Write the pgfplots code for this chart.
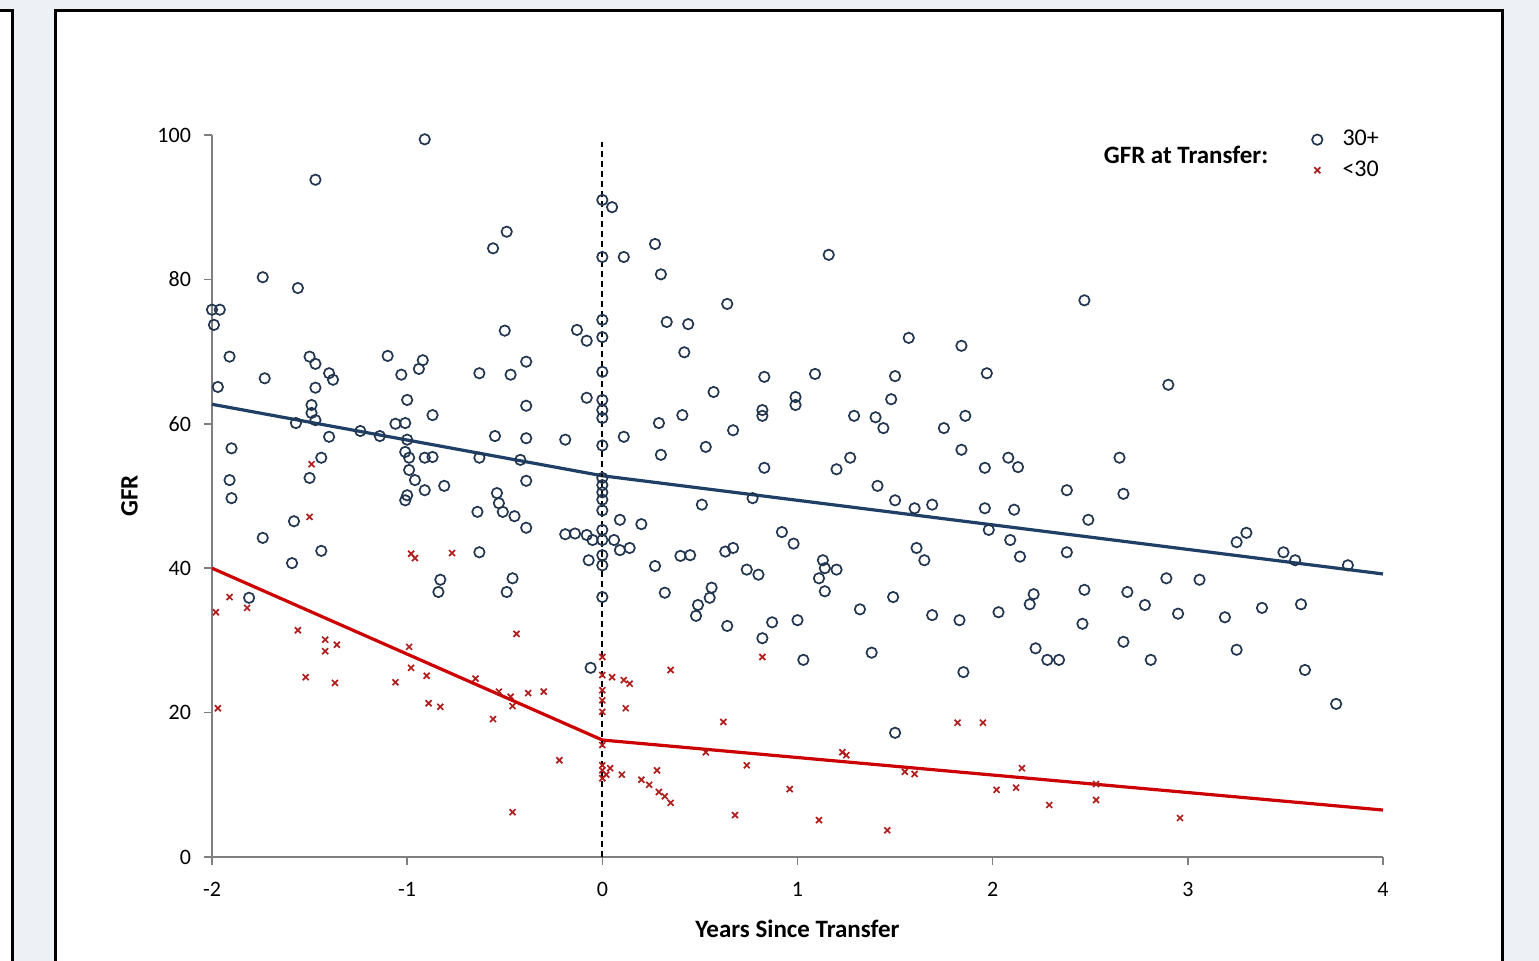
\documentclass[border=0pt]{standalone}
\usepackage{fontspec}
\setmainfont{Carlito}
\usepackage{pgfplots}
\pgfplotsset{compat=1.18}
\definecolor{bgpanel}{HTML}{EDF0F5}
\definecolor{cblue}{HTML}{22364F}
\definecolor{lblue}{HTML}{1F3F66}
\definecolor{cred}{HTML}{B01E1E}
\definecolor{lred}{HTML}{CC0000}
\definecolor{axgray}{HTML}{7F7F7F}

\pgfplotstableread{
x y
-0.91 99.4
-1.47 93.8
-1.74 80.3
-1.56 78.8
-2.00 75.8
-1.96 75.8
-1.99 73.7
-1.91 69.3
-1.97 65.1
-1.73 66.3
-1.50 69.3
-1.47 68.3
-1.40 67.0
-1.38 66.1
-1.47 65.0
-1.49 62.6
-1.49 61.5
-1.47 60.5
-1.57 60.1
-1.24 59.0
-1.40 58.2
-1.14 58.3
-1.90 56.6
-1.44 55.3
-1.91 52.2
-1.90 49.7
-1.50 52.5
-1.58 46.5
-1.74 44.2
-1.44 42.4
-1.59 40.7
-1.81 35.9
-1.10 69.4
-1.03 66.8
-0.92 68.8
-0.94 67.6
-1.00 63.3
-0.87 61.2
-1.06 60.0
-1.01 60.1
-1.00 57.8
-1.01 56.1
-0.99 55.3
-0.91 55.3
-0.87 55.4
-0.99 53.6
-0.96 52.2
-1.00 50.1
-1.01 49.4
-0.91 50.8
-0.81 51.4
-0.83 38.4
-0.84 36.7
-0.56 84.3
-0.49 86.6
-0.63 67.0
-0.50 72.9
-0.47 66.8
-0.39 68.6
-0.39 62.5
-0.55 58.3
-0.39 58.0
-0.63 55.3
-0.42 55.0
-0.54 50.4
-0.53 49.0
-0.51 47.8
-0.45 47.2
-0.39 52.1
-0.39 45.6
-0.64 47.8
-0.63 42.2
-0.49 36.7
-0.46 38.6
-0.19 57.8
-0.13 73.0
-0.08 71.5
-0.08 63.6
-0.19 44.7
-0.14 44.8
-0.08 44.6
-0.05 43.9
-0.07 41.1
-0.06 26.2
0.00 91.0
0.00 83.1
0.00 74.4
0.00 72.0
0.00 67.2
0.00 63.3
0.00 61.9
0.00 60.8
0.00 57.0
0.00 52.5
0.00 51.5
0.00 50.5
0.00 49.5
0.00 48.0
0.00 45.3
0.00 43.9
0.00 41.8
0.00 40.4
0.00 36.0
0.05 90.0
0.11 83.1
0.27 84.9
0.30 80.7
0.33 74.1
0.44 73.8
0.42 69.9
0.64 76.6
0.11 58.2
0.29 60.1
0.41 61.2
0.30 55.7
0.57 64.4
0.67 59.1
0.82 61.9
0.82 61.1
0.83 66.5
0.83 53.9
0.99 63.7
0.99 62.6
1.09 66.9
0.51 48.8
0.53 56.8
0.77 49.7
0.09 46.7
0.20 46.1
0.14 42.8
0.06 43.9
0.09 42.5
0.27 40.3
0.40 41.7
0.45 41.8
0.32 36.6
0.49 34.9
0.48 33.4
0.55 35.9
0.56 37.3
0.67 42.8
0.63 42.3
0.74 39.8
0.80 39.1
0.64 32.0
0.82 30.3
0.87 32.5
0.92 45.0
0.98 43.4
1.00 32.8
1.03 27.3
1.16 83.4
1.57 71.9
1.84 70.8
1.97 67.0
1.50 66.6
1.48 63.4
1.29 61.1
1.40 60.9
1.44 59.4
1.75 59.4
1.86 61.1
1.27 55.3
1.20 53.7
1.84 56.4
1.96 53.9
1.41 51.4
1.50 49.4
1.60 48.3
1.69 48.8
1.96 48.3
1.98 45.3
1.13 41.1
1.14 40.0
1.20 39.8
1.11 38.6
1.14 36.8
1.61 42.8
1.65 41.1
1.32 34.3
1.49 36.0
1.69 33.5
1.83 32.8
1.38 28.3
1.50 17.2
1.85 25.6
2.08 55.3
2.13 54.0
2.11 48.1
2.09 43.9
2.14 41.6
2.03 33.9
2.19 35.0
2.21 36.4
2.22 28.9
2.28 27.3
2.34 27.3
2.38 50.8
2.38 42.2
2.47 77.1
2.49 46.7
2.47 37.0
2.46 32.3
2.65 55.3
2.67 50.3
2.69 36.7
2.67 29.8
2.78 34.9
2.81 27.3
2.89 38.6
2.90 65.4
2.95 33.7
3.06 38.4
3.19 33.2
3.25 43.6
3.30 44.9
3.25 28.7
3.38 34.5
3.49 42.2
3.55 41.1
3.58 35.0
3.60 25.9
3.76 21.2
3.82 40.4
}\highgfr

\pgfplotstableread{
x y
-1.98 33.9
-1.91 36.0
-1.82 34.5
-1.97 20.6
-1.56 31.4
-1.52 24.9
-1.42 30.1
-1.42 28.5
-1.36 29.4
-1.37 24.1
-1.50 47.1
-1.49 54.4
-1.06 24.2
-0.99 29.1
-0.98 26.2
-0.98 42.0
-0.96 41.4
-0.90 25.1
-0.89 21.3
-0.83 20.8
-0.77 42.1
-0.65 24.7
-0.56 19.1
-0.53 22.9
-0.47 22.2
-0.46 20.9
-0.44 30.9
-0.38 22.7
-0.30 22.9
-0.46 6.2
-0.22 13.4
0.00 27.7
0.00 25.2
0.00 23.1
0.00 21.7
0.00 20.1
0.00 15.5
0.00 12.7
0.00 12.0
0.02 11.4
0.00 10.9
0.04 12.3
0.05 24.9
0.11 24.5
0.14 24.0
0.12 20.6
0.10 11.4
0.20 10.7
0.24 10.0
0.28 12.0
0.29 9.0
0.32 8.4
0.35 7.5
0.35 25.9
0.53 14.5
0.62 18.7
0.68 5.8
0.74 12.7
0.82 27.7
0.96 9.4
1.11 5.1
1.23 14.5
1.25 14.1
1.46 3.7
1.55 11.8
1.60 11.5
1.82 18.6
1.95 18.6
2.02 9.3
2.12 9.6
2.15 12.3
2.29 7.2
2.53 10.1
2.53 7.9
2.96 5.4
}\lowgfr

\begin{document}
\begin{tikzpicture}
\useasboundingbox (0,0) rectangle (769.5pt,480.5pt);
\fill[bgpanel] (0,0) rectangle (769.5pt,480.5pt);
\filldraw[fill=white,draw=black,line width=1.5pt] (-20pt,-10pt) rectangle (6pt,475pt);
\filldraw[fill=white,draw=black,line width=1.5pt] (27.5pt,-10pt) rectangle (751pt,475pt);
\begin{axis}[
  at={(106pt,52pt)}, anchor=south west,
  scale only axis, width=585.5pt, height=361pt,
  xmin=-2, xmax=4, ymin=0, ymax=100,
  xtick={-2,-1,...,4}, ytick={0,20,...,100},
  axis x line*=bottom, axis y line*=left,
  axis line style={axgray, line width=1pt, -},
  tick align=outside, major tick length=4pt,
  tick style={axgray, line width=0.8pt},
  /pgf/number format/assume math mode=true,
  ticklabel style={font=\fontsize{11}{12}\selectfont},
  xticklabel style={yshift=-5pt},
  yticklabel style={xshift=-3pt},
  xlabel={\textbf{Years Since Transfer}},
  ylabel={\textbf{GFR}},
  label style={font=\fontsize{12.5}{14}\selectfont},
  xlabel style={yshift=-5pt},
  ylabel style={yshift=3pt},
  clip=false,
  legend style={at={(0.934,1.018)}, anchor=north west, draw=none, fill=none,
    font=\fontsize{12}{14}\selectfont, row sep=2pt,
    /tikz/every even column/.append style={column sep=4pt}},
  legend cell align=left,
  legend image post style={xshift=-9.5pt},
]
\addplot[only marks, mark=o, mark size=2.6pt, cblue, line width=0.85pt] table {\highgfr};
\addlegendentry{\hspace{8pt}30+}
\addplot[only marks, mark=x, mark size=2.1pt, cred, line width=0.85pt] table {\lowgfr};
\addlegendentry{\hspace{8pt}<30}
\addplot[lblue, line width=1.6pt, forget plot] coordinates {(-2,62.7)(0,52.8)(4,39.2)};
\addplot[lred, line width=1.6pt, forget plot] coordinates {(-2,40.0)(0,16.2)(4,6.5)};
\addplot[black, line width=1.1pt, dash pattern=on 3pt off 2pt, forget plot] coordinates {(0,0)(0,99)};
\node[anchor=east, font=\bfseries\fontsize{12.5}{14}\selectfont] at (rel axis cs:0.908,0.972) {GFR at Transfer:};
\end{axis}
\end{tikzpicture}
\end{document}
